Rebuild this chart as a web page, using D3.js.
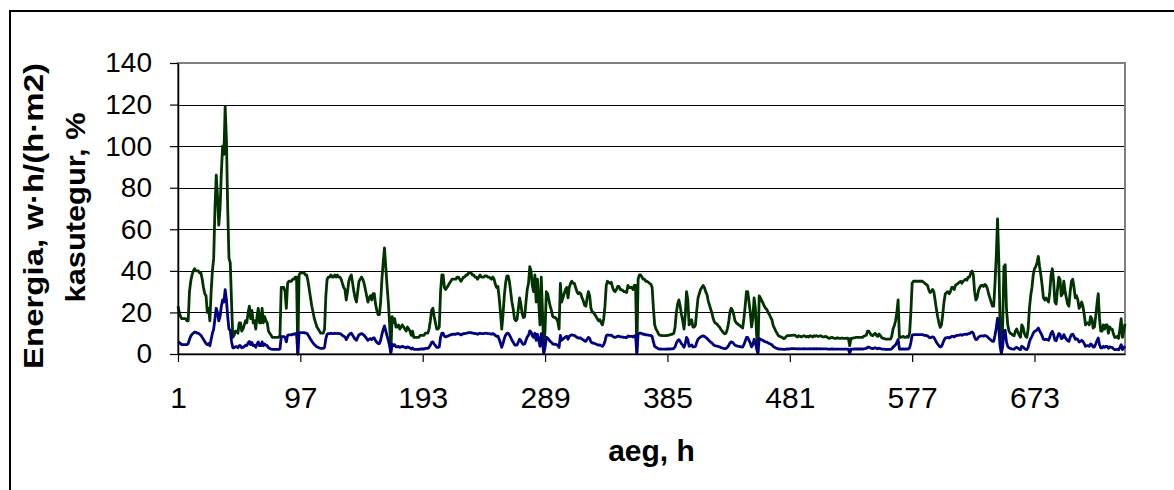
<!DOCTYPE html>
<html>
<head>
<meta charset="utf-8">
<script src="https://cdn.jsdelivr.net/npm/d3@7"></script>
<style>
  body { margin: 0; background: #fff; }
  svg { display: block; font-family: "Liberation Sans", Arial, sans-serif; }
</style>
</head>
<body>
<svg id="chart" width="1174" height="490"></svg>
<script>
// hourly energy, one line per day (24 h)
const energy = [
  23, 20, 18, 17, 17, 17, 17, 16, 16, 30, 35, 38, 40, 41, 40, 40, 40, 39, 39, 36, 32, 29, 28, 20,
  22, 16, 30, 40, 46, 70, 86, 76, 62, 70, 87, 100, 96, 119, 103, 70, 46, 44, 25, 8, 9, 11, 11, 10,
  15, 15, 11, 12, 14, 16, 15, 20, 23, 17, 21, 15, 16, 12, 18, 22, 15, 15, 22, 15, 18, 16, 15, 11,
  10, 9, 8, 8, 8, 8, 8, 8, 9, 32, 32, 32, 30, 22, 34, 35, 35, 35, 36, 36, 37, 37, 0, 38,
  39, 39, 39, 39, 38, 38, 35, 31, 27, 23, 20, 17, 15, 13, 12, 11, 10, 10, 10, 12, 28, 36, 37, 37,
  38, 37, 37, 38, 37, 38, 37, 37, 36, 34, 32, 31, 26, 30, 35, 37, 38, 34, 30, 27, 25, 30, 35, 36,
  37, 36, 34, 31, 28, 25, 27, 28, 26, 29, 29, 24, 21, 19, 19, 25, 36, 44, 51, 42, 33, 25, 15, 1,
  18, 15, 17, 13, 13, 14, 12, 13, 14, 13, 12, 11, 13, 12, 11, 9, 11, 8, 8, 8, 8, 8, 9, 9,
  9, 9, 10, 10, 10, 12, 16, 21, 22, 18, 15, 12, 12, 13, 30, 38, 38, 32, 31, 32, 33, 34, 35, 36,
  36, 36, 36, 37, 37, 36, 35, 36, 37, 37, 38, 38, 39, 39, 39, 38, 38, 37, 37, 36, 37, 38, 37, 37,
  37, 37.6, 37.6, 37, 37, 36.5, 36, 37, 36, 33.5, 32, 32.5, 27, 20, 12, 19, 28, 34, 37.5, 37.6, 35, 30, 25, 21.6,
  17, 16, 16.5, 21.6, 27, 24, 19.5, 17.5, 18, 25, 31, 34, 42, 40, 33, 30, 38, 25, 36, 25, 14, 37, 20, 1,
  12, 30, 29, 26, 23, 21, 18, 17.6, 17.6, 17, 15.5, 12, 34, 25, 27, 29, 31, 32, 27, 32, 34, 35, 34, 34,
  32, 30, 29, 29.6, 29, 27, 25.6, 23.5, 23, 27, 30, 28, 22, 20, 20, 19, 18, 17, 16, 16.5, 15, 14, 17, 23,
  33, 35, 34.5, 34, 34.5, 32, 30.5, 30, 31, 32.5, 32.5, 31, 31, 30.5, 30, 30, 29.6, 33, 32, 32, 32, 31, 33, 33,
  1, 36, 38, 38, 37, 36, 36, 35, 35, 34.5, 34, 33.6, 32, 22, 14, 12, 11, 9.6, 9, 9, 8.8, 8.8, 8.8, 8.8,
  9, 9, 9.2, 9.5, 9.6, 10, 13, 20, 24, 26, 23, 19, 16, 12, 19, 30, 26, 14, 15, 16.5, 13, 13, 14, 21,
  27, 29, 31, 32, 33, 32, 30, 28.6, 25.6, 23.5, 21.5, 19.5, 16.8, 15.3, 14.7, 14.3, 13.5, 12.9, 11.7, 11, 10.2, 9.7, 10, 12,
  15, 20, 22, 21, 19, 16, 15, 14.5, 14, 13.5, 13, 12.5, 17, 23, 30, 30, 25, 20, 13, 17, 27, 22, 9, 1,
  28, 27, 25.6, 24.5, 23, 22, 21.4, 20, 19, 17.6, 16.5, 13.6, 12.4, 11, 10, 8.8, 8.5, 8.2, 8, 7.4, 7.5, 8.3, 8.8, 8.8,
  8.8, 9, 9, 9.1, 9.1, 8.5, 8.2, 8.8, 8.5, 8.2, 8.5, 8.8, 8.5, 8.2, 8.5, 8.2, 8.8, 8.5, 8.2, 8.8, 8.5, 8.8, 8.5, 8.5,
  8.8, 8.5, 8.2, 8.2, 8.5, 8.2, 7.8, 7.5, 7.8, 8, 7.8, 7.5, 7.5, 7.8, 7.7, 7.5, 7.5, 7.7, 7.5, 7.5, 7.5, 7.6, 7.5, 4,
  7.5, 7.5, 7.8, 7.8, 8, 8, 8, 8, 8, 8, 8.5, 8.8, 9, 11, 11, 10, 9, 8.8, 9.5, 10, 9, 8.5, 9.6, 8.8,
  8, 7.5, 7.5, 7.2, 7.2, 7.2, 7.2, 7.2, 8.5, 12, 13.6, 16, 20, 26, 8, 8, 8.2, 8.5, 8, 8, 8.5, 8, 10, 20,
  34, 35, 35, 35, 35, 35, 35, 35, 35, 34.5, 34, 33.5, 33, 31, 29.6, 30, 31, 30, 26, 21.6, 18, 15, 12.8, 14,
  19, 25, 29, 29.5, 30, 29, 30, 32, 32, 31, 33, 33.5, 34, 34.5, 35, 34, 35, 35.5, 36, 35.5, 37, 37, 39, 40,
  38, 30, 26, 27, 30.5, 32, 33, 33, 32.5, 33.5, 33, 31.5, 29, 27, 25, 23, 23, 34, 47, 65, 45, 14, 1, 13,
  42, 43, 22, 14, 11, 10, 9.6, 9, 8.8, 11, 12, 10.4, 9, 8, 14, 13, 10, 8.5, 8, 12, 22, 28, 32, 38,
  41, 42, 44, 47, 42, 38, 33, 27, 26, 27, 26, 25, 30, 38, 41, 35, 25, 24, 31, 37, 36, 28, 29, 35,
  30, 27, 24, 23, 30, 35, 36, 32, 27, 28, 26, 22, 23, 25, 23, 19, 14, 15, 15, 14, 18, 17, 12.5, 13,
  18, 24, 29, 17, 11, 11, 14, 12, 14, 14, 10, 13, 12, 12, 9.5, 8, 8, 8.5, 7.5, 12, 17, 8, 11, 14.5
]

// hourly efficiency (kasutegur), same layout
const efficiency = [
  6, 5.5, 5, 4.5, 4.5, 4.5, 4.5, 4.5, 5, 7, 8.5, 9.5, 10, 10.5, 10.5, 10, 10, 9.5, 9, 8, 7, 6, 5, 4.5,
  5, 4, 7, 10, 12, 17, 22, 20, 16, 18, 23, 26, 25, 31, 26, 18, 12, 11.5, 6, 3, 3, 3.5, 3.5, 3,
  4, 4, 3, 3.2, 3.7, 4.2, 4, 5.3, 6, 4.5, 5.5, 4, 4.2, 3.2, 4.8, 5.8, 4, 4, 5.8, 4, 4.8, 4.2, 4, 3,
  2.7, 2.4, 2.2, 2.2, 2.2, 2.2, 2.2, 2.2, 2.4, 8.4, 8.4, 8.4, 8, 5.8, 9, 9.2, 9.2, 9.2, 9.5, 9.5, 9.8, 9.8, 0, 10,
  10.3, 10.3, 10.3, 10.3, 10, 10, 9.2, 8.2, 7.1, 6.1, 5.3, 4.5, 4, 3.4, 3.2, 2.9, 2.7, 2.7, 2.7, 3.2, 7.4, 9.5, 9.8, 9.8,
  10, 9.8, 9.8, 10, 9.8, 10, 9.8, 9.8, 9.5, 9, 8.5, 8.2, 6.9, 8, 9.2, 9.8, 10, 9, 8, 7.1, 6.6, 8, 9.2, 9.5,
  9.8, 9.5, 9, 8.2, 7.4, 6.6, 7.1, 7.4, 6.9, 7.7, 7.7, 6.4, 5.6, 5, 5, 6.6, 9.5, 11.7, 13.5, 11.1, 8.7, 6.6, 4, 0.3,
  4.8, 4, 4.5, 3.4, 3.4, 3.7, 3.2, 3.4, 3.7, 3.4, 3.2, 2.9, 3.4, 3.2, 2.9, 2.4, 2.9, 2.2, 2.2, 2.2, 2.2, 2.2, 2.4, 2.4,
  2.4, 2.4, 2.7, 2.7, 2.7, 3.2, 4.2, 5.6, 5.8, 4.8, 4, 3.2, 3.2, 3.4, 8, 10, 10, 8.5, 8.2, 8.5, 8.7, 9, 9.2, 9.5,
  9.5, 9.5, 9.5, 9.8, 9.8, 9.5, 9.2, 9.5, 9.8, 9.8, 10, 10, 10.3, 10.3, 10.3, 10, 10, 9.8, 9.8, 9.5, 9.8, 10, 9.8, 9.8,
  9.8, 10, 10, 9.8, 9.8, 9.7, 9.5, 9.8, 9.5, 8.9, 8.5, 8.6, 7.1, 5.3, 3.2, 5, 7.4, 9, 9.9, 10, 9.2, 8, 6.6, 5.7,
  4.5, 4.2, 4.4, 5.7, 7.1, 6.4, 5.2, 4.6, 4.8, 6.6, 8.2, 9, 11.1, 10.6, 8.7, 8, 10, 6.6, 9.5, 6.6, 3.7, 9.8, 5.3, 0.3,
  3.2, 8, 7.7, 6.9, 6.1, 5.6, 4.8, 4.7, 4.7, 4.5, 4.1, 3.2, 9, 6.6, 7.1, 7.7, 8.2, 8.5, 7.1, 8.5, 9, 9.2, 9, 9,
  8.5, 8, 7.7, 7.8, 7.7, 7.1, 6.8, 6.2, 6.1, 7.1, 8, 7.4, 5.8, 5.3, 5.3, 5, 4.8, 4.5, 4.2, 4.4, 4, 3.7, 4.5, 6.1,
  8.7, 9.2, 9.1, 9, 9.1, 8.5, 8.1, 8, 8.2, 8.6, 8.6, 8.2, 8.2, 8.1, 8, 8, 7.8, 8.7, 8.5, 8.5, 8.5, 8.2, 8.7, 8.7,
  0.3, 9.5, 10, 10, 9.8, 9.5, 9.5, 9.2, 9.2, 9.1, 9, 8.9, 8.5, 5.8, 3.7, 3.2, 2.9, 2.5, 2.4, 2.4, 2.3, 2.3, 2.3, 2.3,
  2.4, 2.4, 2.4, 2.5, 2.5, 2.7, 3.4, 5.3, 6.4, 6.9, 6.1, 5, 4.2, 3.2, 5, 8, 6.9, 3.7, 4, 4.4, 3.4, 3.4, 3.7, 5.6,
  7.1, 7.7, 8.2, 8.5, 8.7, 8.5, 8, 7.6, 6.8, 6.2, 5.7, 5.2, 4.5, 4.1, 3.9, 3.8, 3.6, 3.4, 3.1, 2.9, 2.7, 2.6, 2.7, 3.2,
  4, 5.3, 5.8, 5.6, 5, 4.2, 4, 3.8, 3.7, 3.6, 3.4, 3.3, 4.5, 6.1, 8, 8, 6.6, 5.3, 3.4, 4.5, 7.1, 5.8, 2.4, 0.3,
  7.4, 7.1, 6.8, 6.5, 6.1, 5.8, 5.7, 5.3, 5, 4.7, 4.4, 3.6, 3.3, 2.9, 2.7, 2.4, 2.4, 2.3, 2.3, 2.2, 2.2, 2.3, 2.4, 2.4,
  2.5, 2.6, 2.6, 2.6, 2.6, 2.5, 2.5, 2.6, 2.5, 2.5, 2.5, 2.6, 2.5, 2.5, 2.5, 2.5, 2.6, 2.5, 2.5, 2.6, 2.5, 2.6, 2.5, 2.5,
  2.6, 2.5, 2.5, 2.5, 2.5, 2.5, 2.4, 2.3, 2.4, 2.4, 2.4, 2.3, 2.3, 2.4, 2.3, 2.3, 2.3, 2.3, 2.3, 2.3, 2.3, 2.3, 2.3, 0.3,
  2.3, 2.3, 2.4, 2.4, 2.4, 2.4, 2.4, 2.4, 2.4, 2.4, 2.5, 2.6, 2.7, 3.3, 3.3, 3, 2.7, 2.6, 2.8, 3, 2.7, 2.5, 2.8, 2.6,
  2.4, 2.3, 2.3, 2.2, 2.2, 2.2, 2.2, 2.2, 2.5, 3.3, 3.8, 4.5, 5.5, 7, 2.4, 2.4, 2.4, 2.5, 2.4, 2.4, 2.5, 2.4, 3, 5.5,
  9, 9.3, 9.3, 9.3, 9.3, 9.3, 9.3, 9.3, 9.3, 9.1, 9, 8.9, 8.7, 8.2, 7.8, 8, 8.2, 8, 6.9, 5.7, 4.8, 4, 3.4, 3.7,
  5, 6.6, 7.7, 7.8, 8, 7.7, 8, 8.5, 8.5, 8.2, 8.7, 8.9, 9, 9.1, 9.3, 9, 9.3, 9.4, 9.5, 9.4, 9.8, 9.8, 10.3, 10.6,
  10, 8, 6.9, 7.1, 8.1, 8.5, 8.7, 8.7, 8.6, 8.9, 8.7, 8.3, 7.7, 7.1, 6.6, 6.1, 6.1, 9, 12.5, 17.2, 11.9, 3.7, 0.3, 3.4,
  11.1, 11.4, 5.8, 3.7, 2.9, 2.7, 2.5, 2.4, 2.3, 2.9, 3.2, 2.8, 2.4, 2.1, 3.7, 3.4, 2.7, 2.3, 2.1, 3.2, 5.8, 7.4, 8.5, 10,
  10.9, 11.1, 11.7, 12.5, 11.1, 10, 8.7, 7.1, 6.9, 7.1, 6.9, 6.6, 8, 10, 10.9, 9.3, 6.6, 6.4, 8.2, 9.8, 9.5, 7.4, 7.7, 9.3,
  8, 7.1, 6.4, 6.1, 8, 9.3, 9.5, 8.5, 7.1, 7.4, 6.9, 5.8, 6.1, 6.6, 6.1, 5, 3.7, 4, 4, 3.7, 4.8, 4.5, 3.3, 3.4,
  4.8, 6.4, 7.7, 4.5, 2.9, 2.9, 3.7, 3.2, 3.7, 3.7, 2.7, 3.4, 3.2, 3.2, 2.5, 2.1, 2.1, 2.3, 2, 3.2, 4.5, 2.1, 2.9, 3.8
]

const hours = energy.map((d, i) => i + 1)
const xTickLabels = [1, 97, 193, 289, 385, 481, 577, 673]
const yTicks = [0, 20, 40, 60, 80, 100, 120, 140]

const plot = { left: 178, right: 1125, top: 63, bottom: 354 }

const svg = d3.select('#chart')

const x = d3.scaleLinear()
  .domain([1, hours.length])
  .range([plot.left, plot.right])

const y = d3.scaleLinear()
  .domain([0, 140])
  .range([plot.bottom, plot.top])

// outer chart frame (runs off the right / bottom edge)
svg.append('rect')
  .attr('x', 10).attr('y', 11)
  .attr('width', 1200).attr('height', 500)
  .attr('fill', 'none')
  .attr('stroke', '#000')
  .attr('stroke-width', 2)

// gridlines
svg.append('g')
  .selectAll('line')
  .data(yTicks.filter(t => t > 0 && t < 140))
  .join('line')
    .attr('x1', plot.left).attr('x2', plot.right)
    .attr('y1', d => Math.round(y(d)) + 0.5)
    .attr('y2', d => Math.round(y(d)) + 0.5)
    .attr('stroke', '#000')
    .attr('stroke-width', 1)

// plot area border
svg.append('rect')
  .attr('x', plot.left).attr('y', plot.top)
  .attr('width', plot.right - plot.left)
  .attr('height', plot.bottom - plot.top)
  .attr('fill', 'none')
  .attr('stroke', '#808080')
  .attr('stroke-width', 2)

// series
const line = d3.line()
  .x((d, i) => x(hours[i]))
  .y(d => y(d))

svg.append('path')
  .datum(energy)
  .attr('d', line)
  .attr('fill', 'none')
  .attr('stroke', '#003300')
  .attr('stroke-width', 2.8)
  .attr('stroke-linejoin', 'round')

svg.append('path')
  .datum(efficiency)
  .attr('d', line)
  .attr('fill', 'none')
  .attr('stroke', '#000080')
  .attr('stroke-width', 2.8)
  .attr('stroke-linejoin', 'round')

// axes
const yAxis = svg.append('g')
  .attr('transform', `translate(${plot.left},0)`)
  .call(d3.axisLeft(y).tickValues(yTicks).tickSize(8).tickSizeOuter(0).tickPadding(18))

const xAxis = svg.append('g')
  .attr('transform', `translate(0,${plot.bottom})`)
  .call(d3.axisBottom(x).tickValues(xTickLabels).tickFormat(d3.format('d'))
    .tickSize(8).tickSizeOuter(0).tickPadding(25))

yAxis.select('.domain').attr('stroke', '#000').attr('stroke-width', 1.5)
xAxis.select('.domain').attr('stroke', '#000').attr('stroke-width', 1.5)
svg.selectAll('.tick line').attr('stroke', '#000').attr('stroke-width', 1.2)

yAxis.selectAll('text')
  .attr('font-family', '"Liberation Sans", Arial, sans-serif')
  .attr('font-size', 28)
  .attr('fill', '#000')
xAxis.selectAll('text')
  .attr('font-family', '"Liberation Sans", Arial, sans-serif')
  .attr('font-size', 30)
  .attr('fill', '#000')

// axis titles
const yTitle = [
  { text: 'Energia, w·h/(h·m2)', x: 43, y: 216, len: 306 },
  { text: 'kasutegur, %', x: 85, y: 207.5, len: 190 }
]

svg.append('g')
  .selectAll('text')
  .data(yTitle)
  .join('text')
    .attr('transform', d => `translate(${d.x},${d.y}) rotate(-90)`)
    .attr('text-anchor', 'middle')
    .attr('font-size', 28)
    .attr('font-weight', 'bold')
    .attr('textLength', d => d.len)
    .attr('lengthAdjust', 'spacingAndGlyphs')
    .text(d => d.text)

svg.append('text')
  .attr('x', (plot.left + plot.right) / 2)
  .attr('y', 461)
  .attr('text-anchor', 'middle')
  .attr('font-size', 30)
  .attr('font-weight', 'bold')
  .text('aeg, h')
</script>
</body>
</html>
